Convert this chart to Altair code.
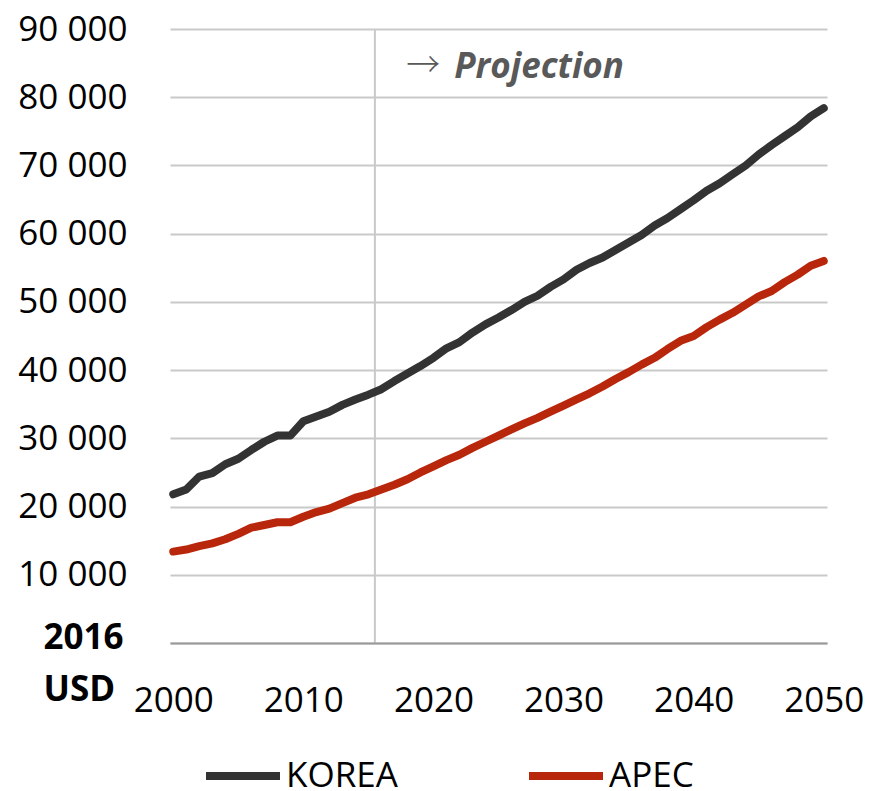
import altair as alt
import pandas as pd

years = list(range(2000, 2051))
korea = [21800, 22500, 24400, 24900, 26200, 27000, 28300, 29500, 30400, 30400,
         32500, 33200, 33900, 34900, 35700, 36400, 37200, 38400, 39500, 40600,
         41800, 43200, 44100, 45500, 46700, 47700, 48800, 50000, 50900, 52200,
         53300, 54700, 55700, 56500, 57600, 58700, 59800, 61200, 62300, 63600,
         64900, 66300, 67400, 68700, 70000, 71600, 73000, 74300, 75600, 77200,
         78400]
apec = [13400, 13700, 14200, 14600, 15200, 16000, 16900, 17300, 17700, 17700,
        18500, 19200, 19700, 20500, 21300, 21800, 22500, 23200, 24000, 25000,
        25900, 26800, 27600, 28600, 29500, 30400, 31300, 32200, 33000, 33900,
        34800, 35700, 36600, 37600, 38700, 39700, 40800, 41800, 43100, 44300,
        45000, 46300, 47400, 48400, 49600, 50800, 51600, 52900, 54000, 55300,
        56000]
series_names = ["KOREA", "APEC"]
series_colors = ["#333333", "#B8260B"]
x_ticks = [2000, 2010, 2020, 2030, 2040, 2050]
y_ticks = [0, 10000, 20000, 30000, 40000, 50000, 60000, 70000, 80000, 90000]
projection_start = [2015.5]
arrow_label = ["→"]
arrow_pos = [2017.9, 84400]
proj_label = ["Projection"]
proj_pos = [2021.6, 84400]

df = pd.DataFrame({
    "year": years + years,
    "value": korea + apec,
    "series": [series_names[0]] * len(years) + [series_names[1]] * len(years),
})

FONT = "Open Sans"
x_scale = alt.Scale(domain=[1999.75, 2050.25], nice=False, zero=False)
y_scale = alt.Scale(domain=[0, 90000], nice=False)

lines = alt.Chart(df).mark_line(strokeWidth=8, strokeCap="round", strokeJoin="round").encode(
    x=alt.X("year:Q", scale=x_scale,
            axis=alt.Axis(values=x_ticks, format="d", grid=False, ticks=False,
                          domain=True, domainColor="#999999", domainWidth=2,
                          labelFontSize=35, labelFont=FONT, labelColor="black",
                          labelPadding=40, title=None, zindex=1)),
    y=alt.Y("value:Q", scale=y_scale,
            axis=alt.Axis(values=y_ticks, grid=True, gridColor="#c9c9c9", gridWidth=2,
                          ticks=False, domain=False,
                          labelExpr="datum.value == 0 ? '' : replace(format(datum.value, ','), ',', ' ')",
                          labelFontSize=35, labelFont=FONT, labelColor="black",
                          labelPadding=43,
                          title=["2016", "USD"], titleAngle=0, titleAlign="left",
                          titleBaseline="top", titleX=-127, titleY=591,
                          titleFont=FONT, titleFontSize=35, titleFontWeight="bold",
                          titleColor="black", titleLineHeight=52)),
    color=alt.Color("series:N", scale=alt.Scale(domain=series_names, range=series_colors),
                    legend=alt.Legend(orient="none", legendX=32, legendY=706,
                                      direction="horizontal", title=None,
                                      symbolType="stroke", symbolSize=5476,
                                      symbolStrokeWidth=8, labelFontSize=35,
                                      labelFont=FONT, labelColor="black",
                                      labelOffset=2, columnPadding=115)),
)

rule = alt.Chart(pd.DataFrame({"year": projection_start})).mark_rule(
    color="#c9c9c9", strokeWidth=2).encode(x=alt.X("year:Q", scale=x_scale))

arrow = alt.Chart(pd.DataFrame({"x": [arrow_pos[0]], "y": [arrow_pos[1]], "t": arrow_label})).mark_text(
    align="left", baseline="middle", fontSize=34, font="Noto Sans CJK JP", fontWeight=300,
    color="#595959").encode(
    x=alt.X("x:Q", scale=x_scale), y=alt.Y("y:Q", scale=y_scale), text="t:N")

proj = alt.Chart(pd.DataFrame({"x": [proj_pos[0]], "y": [proj_pos[1]], "t": proj_label})).mark_text(
    align="left", baseline="middle", fontSize=35, font=FONT, fontWeight="bold",
    fontStyle="italic", color="#595959").encode(
    x=alt.X("x:Q", scale=x_scale), y=alt.Y("y:Q", scale=y_scale), text="t:N")

chart = alt.layer(rule, lines, arrow, proj).properties(
    width=657, height=614,
    autosize=alt.AutoSizeParams(type="none"),
    padding={"left": 162, "top": 21, "right": 37, "bottom": 148},
).configure_view(stroke=None)

chart.save("out.html", embed_options={"renderer": "svg", "actions": False})
